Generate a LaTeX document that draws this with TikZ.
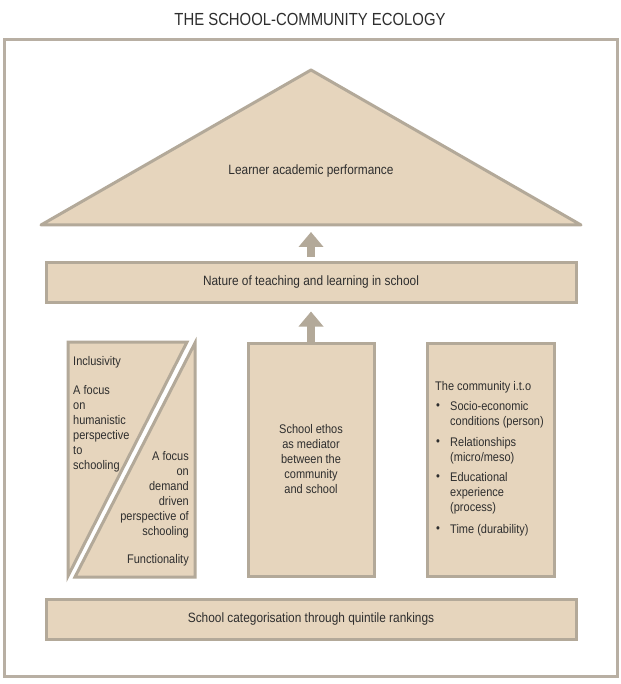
\documentclass[tikz,border=0pt]{standalone}
\usepackage{fontspec}
\setmainfont{Liberation Sans}[FakeStretch=0.88]
\newfontfamily\titlefont{Liberation Sans}[FakeStretch=0.85]
\usetikzlibrary{arrows.meta}
\definecolor{tan}{HTML}{E6D5BD}
\definecolor{edge}{HTML}{B3A999}
\definecolor{frame}{HTML}{B8AFA3}
\definecolor{ink}{HTML}{2E2E2E}
\tikzset{
  txt/.style={inner sep=0pt, text=ink, font=\fontsize{13.5}{15}\selectfont},
  btxt/.style={inner sep=0pt, text=ink, font=\fontsize{12.5}{15}\selectfont},
  box/.style={draw=edge, fill=tan, line width=3pt, inner sep=0pt, text=ink,
    font=\fontsize{13.5}{15}\selectfont, align=center},
  blockarrow/.style={draw=edge, line width=8pt,
    -{Triangle[width=24pt,length=15pt]}},
}
\begin{document}
\begin{tikzpicture}[x=1pt,y=-1pt]
\useasboundingbox (0,0) rectangle (620,684);
\fill[white] (0,0) rectangle (620,684);
% title
\node[txt, font=\titlefont\fontsize{17.5}{20}\selectfont] (title) at (310,19) {THE SCHOOL-COMMUNITY ECOLOGY};
% outer frame
\draw[frame, line width=3pt] (4,40) rectangle (617,676);
% roof
\draw[edge, fill=tan, line width=3pt, line join=round] (41,225) -- (311,70) -- (581,225) -- cycle;
\coordinate (roofbase) at (311,225);
\node[txt] (perf) at (311,171) {Learner academic performance};
% nature box
\node[box, minimum width=530pt, minimum height=40pt] (nature) at (311,282)
  {Nature of teaching and learning in school};
% ethos box
\node[box, font=\fontsize{12.5}{15}\selectfont, minimum width=126pt, minimum height=233pt] (ethos) at (311,459.5)
  {School ethos\\as mediator\\between the\\community\\and school};
% community box
\node[box, minimum width=127pt, minimum height=233pt] (comm) at (490.5,459.5) {};
\node[btxt, anchor=north west, align=left] (ito) at (435,381) {The community i.t.o};
\node[btxt, anchor=north west] (b1) at (436,403) {•};
\node[btxt, anchor=north west, align=left] (i1) at (450,401) {Socio-economic\\conditions (person)};
\node[btxt, anchor=north west] (b2) at (436,439) {•};
\node[btxt, anchor=north west, align=left] (i2) at (450,437) {Relationships\\(micro/meso)};
\node[btxt, anchor=north west] (b3) at (436,474) {•};
\node[btxt, anchor=north west, align=left] (i3) at (450,472) {Educational\\experience\\(process)};
\node[btxt, anchor=north west] (b4) at (436,526) {•};
\node[btxt, anchor=north west, align=left] (i4) at (450,524) {Time (durability)};
% split box
\draw[edge, fill=tan, line width=3pt, line join=miter] (68,342) -- (187,342) -- (68,576) -- cycle;
\draw[edge, fill=tan, line width=3pt, line join=miter] (195,343) -- (195,577) -- (75,577) -- cycle;
\node[btxt, anchor=north west] (incl) at (73,356) {Inclusivity};
\node[btxt, anchor=north west, align=left] (human) at (73,385)
  {A focus\\on\\humanistic\\perspective\\to\\schooling};
\node[btxt, anchor=north east, align=right] (demand) at (189,451)
  {A focus\\on\\demand\\driven\\perspective of\\schooling};
\node[btxt, anchor=north east] (func) at (189,554) {Functionality};
% quintile box
\node[box, minimum width=530pt, minimum height=40pt] (quint) at (311,619)
  {School categorisation through quintile rankings};
% arrows
\draw[blockarrow] ([yshift=4pt]nature.north) -- ([yshift=-7pt]roofbase);
\draw[blockarrow] (ethos.north) -- ([yshift=-8pt]nature.south);
\end{tikzpicture}
\end{document}
